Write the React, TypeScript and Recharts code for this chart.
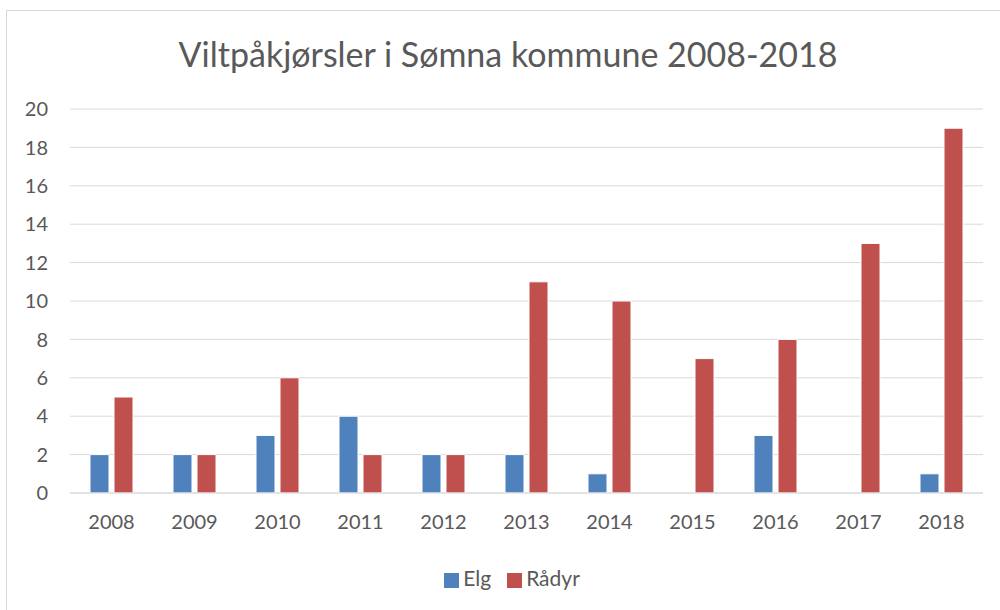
import { Bar, BarChart, CartesianGrid, Legend, XAxis, YAxis } from 'recharts'

const years = ['2008', '2009', '2010', '2011', '2012', '2013', '2014', '2015', '2016', '2017', '2018']
const elg = [2, 2, 3, 4, 2, 2, 1, 0, 3, 0, 1]
const radyr = [5, 2, 6, 2, 2, 11, 10, 7, 8, 13, 19]
const yTicks = [0, 2, 4, 6, 8, 10, 12, 14, 16, 18, 20]

const data = years.map((year, i) => ({
  year,
  Elg: elg[i],
  Rådyr: radyr[i],
}))

const font = 'Lato, "Open Sans", sans-serif'

export default function App() {
  return (
    <div style={{ position: 'absolute', left: 0, top: 0, width: 1000, height: 610, background: '#fff', fontFamily: font }}>
      <div
        style={{
          position: 'absolute',
          left: 6,
          top: 10,
          width: 1000,
          height: 610,
          border: '1px solid #d9d9d9',
          boxSizing: 'border-box',
        }}
      />
      <div
        style={{
          position: 'absolute',
          left: 0,
          top: 33,
          width: 1016,
          textAlign: 'center',
          fontSize: 34,
          color: '#595959',
        }}
      >
        Viltpåkjørsler i Sømna kommune 2008-2018
      </div>
      <BarChart
        width={1000}
        height={610}
        data={data}
        margin={{ top: 109, right: 17, bottom: 62, left: 0 }}
        barGap={5}
        barSize={19}
        style={{ position: 'absolute', left: 0, top: 0 }}
      >
        <CartesianGrid vertical={false} stroke='#d9d9d9' />
        <XAxis
          dataKey='year'
          stroke='#d9d9d9'
          tickLine={false}
          tickMargin={16}
          tick={{ fill: '#595959', fontSize: 20, fontFamily: font }}
        />
        <YAxis
          width={70}
          domain={[0, 20]}
          ticks={yTicks}
          axisLine={false}
          tickLine={false}
          tickMargin={16}
          tick={{ fill: '#595959', fontSize: 20, fontFamily: font }}
        />
        <Legend
          verticalAlign='bottom'
          iconType='square'
          iconSize={15}
          wrapperStyle={{ bottom: 20, left: 20, width: 1000, fontSize: 21, fontFamily: font }}
          formatter={(value) => <span style={{ color: '#595959', fontSize: 21, marginRight: 6 }}>{value}</span>}
        />
        <Bar dataKey='Elg' fill='#4f81bd' stroke='#fff' strokeWidth={1} isAnimationActive={false} />
        <Bar dataKey='Rådyr' fill='#c0504d' stroke='#fff' strokeWidth={1} isAnimationActive={false} />
      </BarChart>
    </div>
  )
}
